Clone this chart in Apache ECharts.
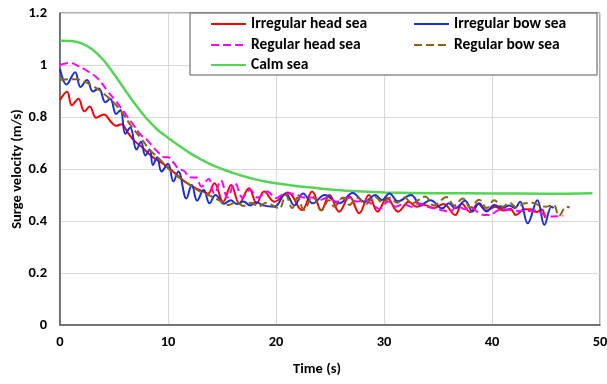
<!DOCTYPE html>
<html>
<head>
<meta charset="utf-8">
<script src="https://cdn.jsdelivr.net/npm/echarts@6/dist/echarts.min.js"></script>
<style>html,body{margin:0;padding:0;background:#fff}#c{width:607px;height:384px}</style>
</head>
<body>
<div id="c"></div>
<script>
const seriesNames = ['Irregular head sea', 'Irregular bow sea', 'Regular head sea', 'Regular bow sea', 'Calm sea'];
const xTicks = [0, 10, 20, 30, 40, 50];
const yTicks = [0, 0.2, 0.4, 0.6, 0.8, 1, 1.2];

const irregularHead = [
  [0,0.865],[0.65,0.897],[1.1,0.845],[1.7,0.87],[2.25,0.822],[2.75,0.84],[3.35,0.797],[4.05,0.81],
  [4.75,0.78],[5.2,0.766],[5.7,0.772],[6.2,0.745],[6.8,0.712],[7.7,0.68],[8.6,0.645],[9.5,0.621],
  [10.2,0.6],[10.8,0.578],[11.5,0.553],[12.5,0.527],[13.2,0.515],[13.7,0.505],[14.3,0.545],[15.1,0.474],
  [15.85,0.538],[16.6,0.468],[17.5,0.526],[18.2,0.468],[18.9,0.513],[19.85,0.474],[21.1,0.51],[22.4,0.442],
  [23.35,0.513],[24.2,0.442],[24.95,0.5],[25.85,0.436],[26.8,0.494],[27.7,0.43],[28.6,0.5],[29.4,0.436],
  [30.3,0.488],[31.3,0.436],[32.3,0.474],[33.0,0.455],[33.7,0.462],[34.6,0.45],[35.5,0.465],[36.6,0.423],
  [37.2,0.466],[38.0,0.434],[38.7,0.466],[39.5,0.44],[40.3,0.455],[41.1,0.44],[41.7,0.447],[42.2,0.423],
  [43.0,0.445],[43.6,0.445],[44.1,0.435],[44.6,0.444],[44.9,0.412]
];
const irregularBow = [
  [0,0.985],[0.6,0.925],[1.4,0.972],[1.9,0.915],[2.5,0.942],[3.05,0.898],[3.6,0.91],[4.2,0.857],
  [4.65,0.87],[5.2,0.812],[5.6,0.827],[6.05,0.735],[6.5,0.76],[7.08,0.675],[7.5,0.705],[7.9,0.652],
  [8.3,0.675],[8.6,0.615],[9.0,0.645],[9.4,0.59],[10.0,0.62],[10.5,0.552],[10.95,0.59],[11.7,0.487],
  [12.2,0.538],[12.7,0.478],[13.3,0.52],[13.85,0.468],[14.4,0.5],[15.2,0.466],[15.8,0.48],[16.4,0.465],
  [17.0,0.475],[17.6,0.46],[18.2,0.472],[18.8,0.46],[19.85,0.455],[20.9,0.506],[21.7,0.46],[22.5,0.506],
  [23.4,0.468],[24.5,0.5],[25.85,0.468],[27.1,0.508],[28.2,0.474],[29.2,0.5],[29.8,0.48],[30.5,0.506],
  [31.3,0.476],[32.5,0.5],[33.4,0.462],[34.3,0.48],[35.4,0.449],[36.0,0.468],[36.6,0.449],[37.5,0.478],
  [38.2,0.437],[38.8,0.468],[39.5,0.437],[40.2,0.462],[41.0,0.45],[41.6,0.46],[42.1,0.45],[42.6,0.474],
  [43.3,0.391],[44.2,0.48],[44.85,0.385],[45.5,0.455],[45.7,0.45]
];
const regularHead = [
  [0,1.0],[0.9,1.008],[1.7,0.996],[2.6,0.975],[3.5,0.948],[4.4,0.9],[5.2,0.86],[6.0,0.815],
  [6.7,0.775],[7.5,0.73],[8.1,0.71],[8.6,0.685],[9.2,0.66],[9.7,0.645],[10.0,0.645],[10.5,0.625],
  [11.0,0.6],[11.5,0.592],[12.0,0.568],[12.6,0.567],[13.1,0.532],[13.75,0.562],[14.3,0.505],[14.9,0.556],
  [15.5,0.49],[16.2,0.545],[16.9,0.49],[17.6,0.52],[18.3,0.49],[19.2,0.513],[20.0,0.488],[20.8,0.505],
  [21.7,0.505],[22.5,0.49],[23.3,0.49],[24.0,0.48],[24.8,0.49],[25.6,0.474],[26.6,0.49],[27.5,0.475],
  [28.3,0.48],[29.0,0.46],[29.6,0.447],[30.4,0.475],[31.1,0.455],[31.8,0.465],[32.5,0.455],[33.2,0.468],
  [34.0,0.455],[35.0,0.445],[35.5,0.44],[36.1,0.436],[36.8,0.458],[37.5,0.445],[38.2,0.45],[38.6,0.436],
  [39.3,0.423],[39.8,0.423],[40.5,0.44],[41.2,0.445],[42.0,0.44],[43.0,0.438],[44.0,0.44],[44.6,0.43],
  [45.2,0.417],[46.0,0.418],[46.6,0.42]
];
const regularBow = [
  [0,0.942],[0.8,0.945],[1.5,0.945],[2.3,0.935],[3.1,0.918],[4.2,0.885],[5.1,0.85],[5.7,0.82],
  [6.6,0.765],[7.5,0.718],[8.4,0.67],[9.3,0.635],[10.2,0.595],[11.1,0.565],[12.0,0.54],[12.9,0.515],
  [13.85,0.498],[14.8,0.478],[15.6,0.462],[16.3,0.472],[17.0,0.458],[17.7,0.47],[18.4,0.456],[19.1,0.47],
  [19.6,0.462],[20.3,0.448],[20.9,0.5],[21.5,0.45],[22.0,0.49],[22.6,0.442],[23.4,0.495],[24.2,0.44],
  [24.9,0.48],[25.4,0.455],[26.2,0.49],[26.8,0.462],[27.5,0.49],[28.3,0.465],[29.1,0.494],[29.9,0.47],
  [30.6,0.49],[31.2,0.47],[31.9,0.49],[32.6,0.468],[33.8,0.494],[34.6,0.46],[35.8,0.492],[36.5,0.46],
  [37.3,0.487],[38.0,0.452],[38.8,0.482],[39.5,0.45],[40.2,0.48],[41.0,0.455],[41.6,0.47],[42.3,0.452],
  [43.0,0.468],[43.7,0.47],[44.4,0.46],[45.0,0.455],[45.7,0.462],[46.2,0.42],[46.9,0.455],[47.2,0.452]
];
const calmSea = [
  [0,1.093],[1,1.092],[2,1.083],[3,1.06],[4,1.02],[5,0.965],[6,0.905],[7,0.847],
  [8,0.795],[9,0.752],[10,0.72],[11,0.69],[12,0.662],[13,0.638],[14,0.617],[15,0.6],
  [16,0.585],[17,0.572],[18,0.561],[19,0.552],[20,0.545],[21,0.539],[22,0.534],[23,0.53],
  [24,0.525],[25,0.521],[26,0.518],[28,0.513],[30,0.51],[35,0.507],[40,0.506],[45,0.505],[49.3,0.507]
];

const colors = ['#ff0000', '#1a2fdc', '#ff00ff', '#8b6414', '#55d455'];
const dataSets = [irregularHead, irregularBow, regularHead, regularBow, calmSea];
const lineTypes = ['solid', 'solid', 'dashed', 'dashed', 'solid'];
const widths = [2, 2, 2, 2, 2.5];

const FONT = 'Carlito, Lato, sans-serif';
const chart = echarts.init(document.getElementById('c'), null, {renderer: 'canvas'});

const legendPos = [[210, 16], [413, 16], [210, 37], [413, 37], [210, 57]];
const legends = seriesNames.map((n, i) => ({
  data: [n], left: legendPos[i][0], top: legendPos[i][1], z: 6,
  itemWidth: 35, itemHeight: 14, padding: 0,
  itemStyle: {opacity: 0},
  textStyle: {fontFamily: FONT, fontWeight: 'bold', fontSize: 15.5, color: '#000'}
}));

chart.setOption({
  animation: false,
  backgroundColor: '#fff',
  grid: {left: 60, right: 7, top: 13, bottom: 59, containLabel: false, outerBoundsMode: 'none',
         show: true, borderColor: '#595959', borderWidth: 1},
  legend: legends,
  graphic: [{
    type: 'rect', z: 5, shape: {x: 190, y: 13, width: 407, height: 62},
    style: {fill: '#fff', stroke: '#595959', lineWidth: 1}
  }],
  xAxis: {
    type: 'value', min: xTicks[0], max: xTicks[xTicks.length - 1], interval: 10,
    name: 'Time (s)', nameLocation: 'middle', nameGap: 37, nameMoveOverlap: false,
    nameTextStyle: {fontFamily: FONT, fontWeight: 'bold', fontSize: 14.5, color: '#000', padding: [0, 26, 0, 0]},
    axisLine: {lineStyle: {color: '#595959', width: 1.5}},
    axisTick: {show: false},
    axisLabel: {fontFamily: FONT, fontWeight: 'bold', fontSize: 14.5, color: '#000', margin: 10},
    splitLine: {lineStyle: {color: '#d9d9d9', width: 1}}
  },
  yAxis: {
    type: 'value', min: yTicks[0], max: yTicks[yTicks.length - 1], interval: 0.2,
    name: 'Surge velocity (m/s)', nameLocation: 'middle', nameGap: 35, nameMoveOverlap: false,
    nameTextStyle: {fontFamily: FONT, fontWeight: 'bold', fontSize: 14.5, color: '#000'},
    axisLine: {show: true, lineStyle: {color: '#595959', width: 1.5}},
    axisTick: {show: false},
    axisLabel: {fontFamily: FONT, fontWeight: 'bold', fontSize: 14.5, color: '#000', margin: 13},
    splitLine: {lineStyle: {color: '#d9d9d9', width: 1}}
  },
  series: seriesNames.map((n, i) => ({
    name: n, type: 'line', data: dataSets[i], smooth: 0.4, symbol: 'none', showSymbol: false,
    z: 2 + (i === 4 ? 0 : 1),
    lineStyle: {color: colors[i], width: widths[i], type: lineTypes[i]},
    itemStyle: {color: colors[i]}
  }))
});
</script>
</body>
</html>
